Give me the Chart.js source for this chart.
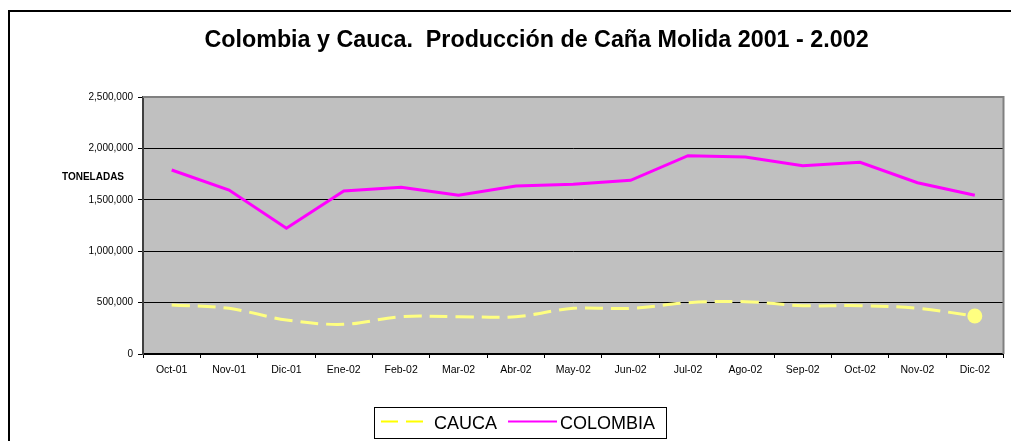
<!DOCTYPE html>
<html>
<head>
<meta charset="utf-8">
<script src="https://cdn.jsdelivr.net/npm/chart.js@4"></script>
<style>
  html, body { margin: 0; padding: 0; background: #fff; }
  canvas { display: block; }
</style>
</head>
<body>
<canvas id="c" width="1011" height="441"></canvas>
<script>
const categories = ["Oct-01","Nov-01","Dic-01","Ene-02","Feb-02","Mar-02","Abr-02","May-02","Jun-02","Jul-02","Ago-02","Sep-02","Oct-02","Nov-02","Dic-02"];
const cauca = [477000, 444000, 331000, 289000, 363000, 363000, 363000, 444000, 444000, 499000, 509000, 470000, 470000, 444000, 370000];
const colombia = [1790000, 1595000, 1223000, 1586000, 1621000, 1544000, 1634000, 1651000, 1690000, 1929000, 1916000, 1832000, 1865000, 1666000, 1544000];
const yTicks = [0, 500000, 1000000, 1500000, 2000000, 2500000];
const titleText = "Colombia y Cauca.  Producción de Caña Molida 2001 - 2.002";
const yAxisTitle = "TONELADAS";
const seriesNames = ["CAUCA", "COLOMBIA"];

const FONT = "'Liberation Sans', Arial, sans-serif";

const decor = {
  id: 'decor',
  beforeDraw(chart) {
    const { ctx, chartArea: a } = chart;
    ctx.save();
    ctx.fillStyle = '#C0C0C0';
    ctx.fillRect(a.left, a.top, a.right - a.left, a.bottom - a.top);
    ctx.restore();
  },
  beforeDatasetsDraw(chart) {
    const { ctx, chartArea: a } = chart;
    ctx.save();
    ctx.strokeStyle = '#808080';
    ctx.lineWidth = 2;
    ctx.beginPath();
    ctx.moveTo(a.left, a.top);
    ctx.lineTo(a.right, a.top);
    ctx.lineTo(a.right, a.bottom);
    ctx.stroke();
    ctx.restore();
  },
  afterDraw(chart) {
    const { ctx } = chart;
    ctx.save();
    ctx.strokeStyle = '#000';
    ctx.lineWidth = 2;
    ctx.beginPath();
    ctx.moveTo(9, 445);
    ctx.lineTo(9, 11);
    ctx.lineTo(1015, 11);
    ctx.stroke();
    ctx.fillStyle = '#000';
    ctx.font = "bold 23.3px " + FONT;
    ctx.textAlign = 'center';
    ctx.textBaseline = 'alphabetic';
    ctx.fillText(titleText, 536.5, 47);
    ctx.font = "bold 10px " + FONT;
    ctx.textAlign = 'left';
    ctx.textBaseline = 'middle';
    ctx.fillText(yAxisTitle, 62, 177.5);
    ctx.strokeStyle = '#000';
    ctx.lineWidth = 1;
    ctx.strokeRect(374.5, 407.5, 292, 31);
    ctx.lineWidth = 2;
    ctx.strokeStyle = '#FFFF00';
    ctx.setLineDash([17, 8]);
    ctx.beginPath();
    ctx.moveTo(381, 421.5);
    ctx.lineTo(424, 421.5);
    ctx.stroke();
    ctx.setLineDash([]);
    ctx.strokeStyle = '#FF00FF';
    ctx.beginPath();
    ctx.moveTo(508, 421.5);
    ctx.lineTo(557, 421.5);
    ctx.stroke();
    ctx.font = "18px " + FONT;
    ctx.fillStyle = '#000';
    ctx.textBaseline = 'alphabetic';
    ctx.fillText(seriesNames[0], 434, 428.5);
    ctx.fillText(seriesNames[1], 560, 428.5);
    ctx.restore();
  }
};

new Chart(document.getElementById('c'), {
  type: 'line',
  data: {
    labels: categories,
    datasets: [
      {
        label: seriesNames[0],
        data: cauca,
        borderColor: '#FFFF80',
        backgroundColor: '#FFFF80',
        borderWidth: 3,
        borderDash: [18, 8],
        tension: 0.35,
        pointRadius: cauca.map((v, i) => i === cauca.length - 1 ? 7.5 : 0),
        pointBackgroundColor: '#FFFF80',
        pointBorderColor: '#FFFF80',
        pointBorderWidth: 0,
        fill: false
      },
      {
        label: seriesNames[1],
        data: colombia,
        borderColor: '#FF00FF',
        backgroundColor: '#FF00FF',
        borderWidth: 3,
        tension: 0,
        pointRadius: 0,
        fill: false
      }
    ]
  },
  options: {
    responsive: false,
    animation: false,
    events: [],
    layout: { padding: { top: 97, right: 4, left: 0, bottom: 0 } },
    plugins: {
      legend: { display: false },
      title: { display: false },
      tooltip: { enabled: false }
    },
    scales: {
      x: {
        type: 'category',
        offset: true,
        grid: { offset: true, drawOnChartArea: false, drawTicks: true, tickLength: 4, color: '#000', lineWidth: 1 },
        border: { color: '#000', width: 2 },
        ticks: { font: { family: FONT, size: 10.5 }, color: '#000', padding: 6, maxRotation: 0, autoSkip: false },
        afterFit: s => { s.height = 87; s.paddingLeft = 0; s.paddingRight = 0; }
      },
      y: {
        min: 0,
        max: 2500000,
        afterBuildTicks: s => { s.ticks = yTicks.map(v => ({ value: v })); },
        grid: { color: '#000', lineWidth: 1, drawTicks: true, tickLength: 5 },
        border: { color: '#404040', width: 2 },
        ticks: {
          font: { family: FONT, size: 10 },
          color: '#000',
          padding: 5,
          callback: v => Number(v).toLocaleString('en-US')
        },
        afterFit: s => { s.width = 143; s.paddingTop = 0; s.paddingBottom = 0; }
      }
    }
  },
  plugins: [decor]
});
</script>
</body>
</html>
